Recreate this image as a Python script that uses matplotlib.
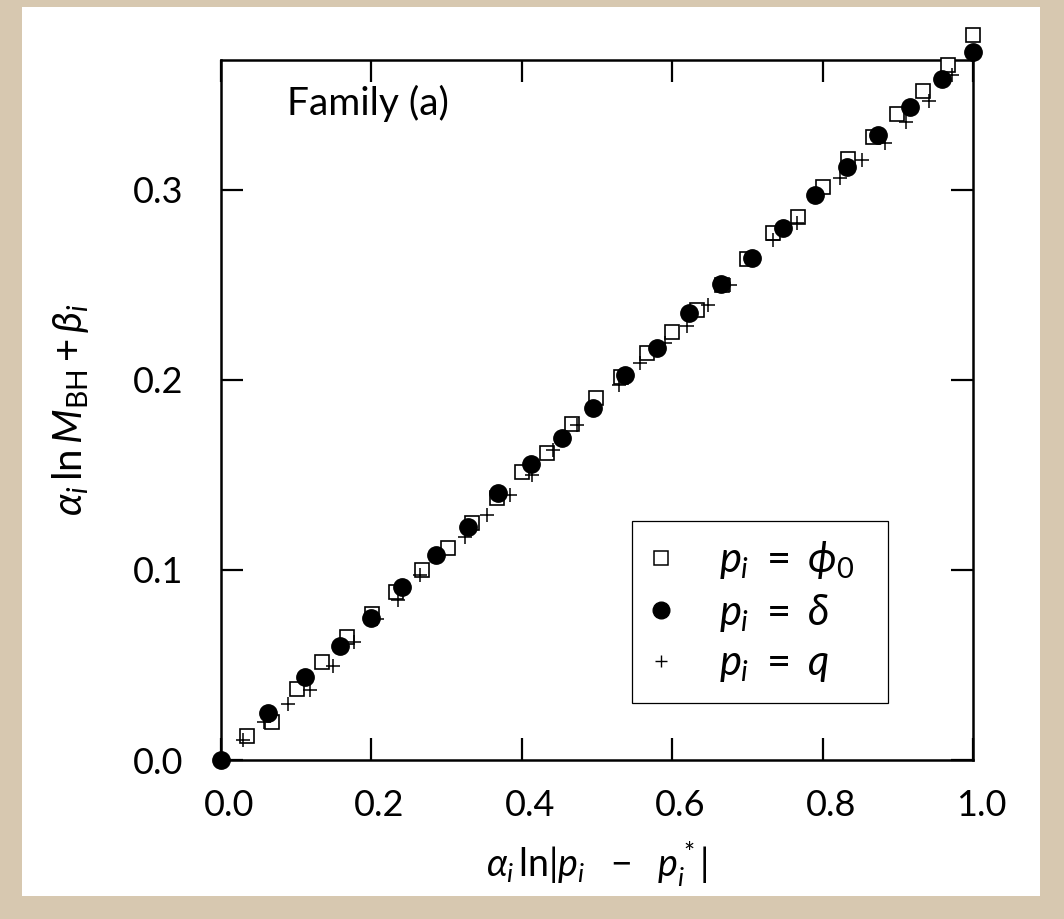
import matplotlib
matplotlib.use("Agg")
import matplotlib.pyplot as plt
from matplotlib.patches import Rectangle
from matplotlib.transforms import ScaledTranslation
from matplotlib.lines import Line2D

plt.rcParams['font.family'] = ['Lato', 'DejaVu Sans']
plt.rcParams['mathtext.fontset'] = 'custom'
plt.rcParams['mathtext.rm'] = 'Lato'
plt.rcParams['mathtext.it'] = 'Lato:italic'
plt.rcParams['mathtext.bf'] = 'Lato:bold'

# ---- data ----
phi0_x = [0.0346, 0.0678, 0.1011, 0.1343, 0.1676, 0.2008, 0.2327, 0.2673, 0.3019, 0.3338,
          0.3670, 0.4003, 0.4335, 0.4668, 0.4987, 0.5319, 0.5665, 0.5997, 0.6330, 0.6662,
          0.6995, 0.7340, 0.7673, 0.8005, 0.8338, 0.8670, 0.8989, 0.9335, 0.9668, 1.0000]
phi0_y = [0.0126, 0.0200, 0.0374, 0.0516, 0.0647, 0.0768, 0.0884, 0.1000, 0.1116, 0.1247,
          0.1379, 0.1516, 0.1616, 0.1768, 0.1905, 0.2016, 0.2142, 0.2253, 0.2368, 0.2500,
          0.2637, 0.2774, 0.2858, 0.3016, 0.3163, 0.3279, 0.3400, 0.3521, 0.3658, 0.3816]

delta_x = [0.0, 0.0625, 0.1117, 0.1582, 0.1995, 0.2407, 0.2859, 0.3285, 0.3684, 0.4122,
           0.4535, 0.4947, 0.5372, 0.5798, 0.6223, 0.6649, 0.7061, 0.7473, 0.7899, 0.8324,
           0.8737, 0.9162, 0.9588, 1.0000]
delta_y = [0.0, 0.0247, 0.0437, 0.0600, 0.0747, 0.0911, 0.1079, 0.1226, 0.1405, 0.1558,
           0.1695, 0.1853, 0.2026, 0.2168, 0.2353, 0.2505, 0.2642, 0.2800, 0.2974, 0.3121,
           0.3289, 0.3437, 0.3584, 0.3726]

q_x = [0.0293, 0.0572, 0.0891, 0.1184, 0.1489, 0.1769, 0.2074, 0.2354, 0.2646, 0.3245,
       0.3537, 0.3843, 0.4136, 0.4415, 0.4734, 0.5293, 0.5572, 0.5904, 0.6197, 0.6476,
       0.6769, 0.7340, 0.7660, 0.8231, 0.8524, 0.8830, 0.9109, 0.9415, 0.9721]
q_y = [0.0105, 0.0200, 0.0295, 0.0368, 0.0495, 0.0621, 0.0742, 0.0842, 0.0974, 0.1174,
       0.1289, 0.1395, 0.1500, 0.1632, 0.1763, 0.1974, 0.2089, 0.2195, 0.2284, 0.2395,
       0.2500, 0.2737, 0.2826, 0.3063, 0.3158, 0.3247, 0.3358, 0.3468, 0.3605]

x_ticks = [0.0, 0.2, 0.4, 0.6, 0.8, 1.0]
x_ticklabels = ['0.0', '0.2', '0.4', '0.6', '0.8', '1.0']
y_ticks = [0.0, 0.1, 0.2, 0.3]
y_ticklabels = ['0.0', '0.1', '0.2', '0.3']
legend_labels = [r'$p_i\ =\ \phi_0$', r'$p_i\ =\ \delta$', r'$p_i\ =\ q$']
panel_title = 'Family (a)'

W, H = 1064, 919
fig = plt.figure(figsize=(W / 100, H / 100), dpi=100, facecolor='#d7c8b0')
fig.patches.append(Rectangle((22 / W, 1 - 896 / H), (1040 - 22) / W, (896 - 7) / H,
                             transform=fig.transFigure, facecolor='white',
                             edgecolor='none', zorder=-10))

ax = fig.add_axes([221 / W, 1 - 760 / H, (973 - 221) / W, (760 - 60) / H])
ax.set_zorder(1)
ax.set_xlim(0, 1.0)
ax.set_ylim(0, 0.3684)

ax.plot(phi0_x, phi0_y, linestyle='none', marker='s', markersize=10.5, mfc='white',
        mec='black', mew=1.2, clip_on=False, zorder=3)
ax.plot(delta_x, delta_y, linestyle='none', marker='o', markersize=12.5, mfc='black',
        mec='black', clip_on=False, zorder=4)
ax.plot(q_x, q_y, linestyle='none', marker='+', markersize=10, color='black',
        mew=1.1, clip_on=False, zorder=5)

for s in ax.spines.values():
    s.set_linewidth(1.8)
ax.set_xticks(x_ticks)
ax.set_xticklabels(x_ticklabels)
ax.set_yticks(y_ticks)
ax.set_yticklabels(y_ticklabels)
ax.tick_params(direction='in', length=16, width=1.6, top=True, right=True,
               labelsize=26, colors='black')
ax.tick_params(axis='x', pad=21)
ax.tick_params(axis='y', pad=27)
off = ScaledTranslation(8 / 100, 0, fig.dpi_scale_trans)
for lab in ax.get_xticklabels():
    lab.set_transform(lab.get_transform() + off)

ax.set_xlabel(r'$\alpha_i\,\ln|p_i\ \ -\ \ p_i^*|$', fontsize=27, labelpad=12)
ax.set_ylabel(r'$\alpha_i\,\ln M_{\rm BH} + \beta_i$', fontsize=29, labelpad=30)

ax.text(0.195, 0.938, panel_title, transform=ax.transAxes, fontsize=28,
        ha='center', va='center')

handles = [Line2D([], [], linestyle='none', marker='s', markersize=9.5, mfc='white',
                  mec='black', mew=1.1),
           Line2D([], [], linestyle='none', marker='o', markersize=12, mfc='black',
                  mec='black'),
           Line2D([], [], linestyle='none', marker='+', markersize=8, color='black', mew=1.0)]
leg = ax.legend(handles, legend_labels, loc='lower left',
                bbox_to_anchor=(0.5465, 0.0814, 0.3405, 0.263), mode='expand',
                borderaxespad=0, fontsize=30, frameon=True, fancybox=False,
                framealpha=1, edgecolor='black', handlelength=0.5,
                handletextpad=1.15, labelspacing=0.25, borderpad=0.45)
leg.get_frame().set_linewidth(0.9)

fig.savefig('out.png', dpi=100, facecolor=fig.get_facecolor())
